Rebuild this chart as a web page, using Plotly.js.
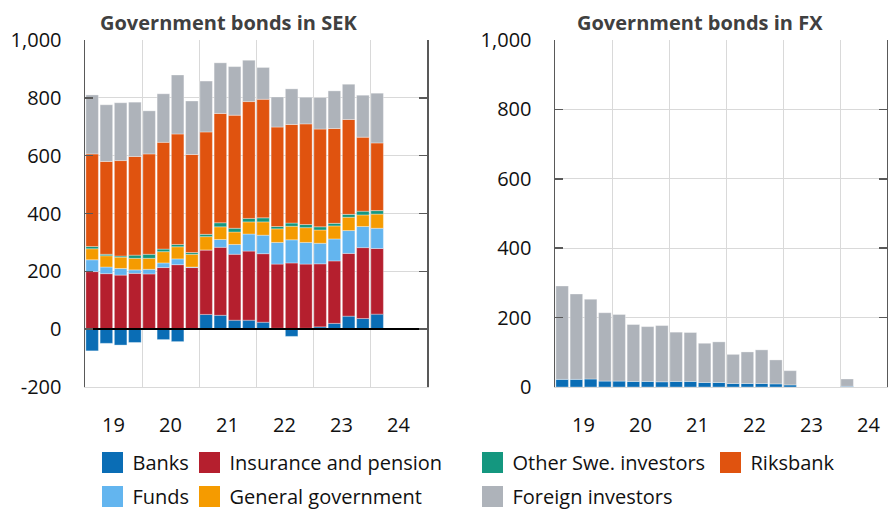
<!DOCTYPE html>
<html><head><meta charset="utf-8">
<script src="https://cdn.plot.ly/plotly-3.0.1.min.js"></script>
<style>html,body{margin:0;padding:0;background:#fff}#chart{width:888px;height:512px}</style>
</head><body><div id="chart"></div>
<script>
// ---- data (SEK billion), quarterly ----
const quarters = ['2019Q1','2019Q2','2019Q3','2019Q4','2020Q1','2020Q2','2020Q3','2020Q4',
                  '2021Q1','2021Q2','2021Q3','2021Q4','2022Q1','2022Q2','2022Q3','2022Q4',
                  '2023Q1','2023Q2','2023Q3','2023Q4','2024Q1'];
const yearLabels = ['19','20','21','22','23','24'];

// Government bonds in SEK
const sekBanks     = [-75,-49,-55,-46,  2,-36,-43, -3, 51, 48, 31, 31, 24,  3,-25,  3,  8, 20, 45, 37, 52];
const sekInsurance = [199,192,187,193,189,213,223,213,223,235,228,239,237,222,229,222,218,216,217,245,227];
const sekFunds     = [ 41, 23, 23, 12, 16, 16, 20,  2,  0, 27, 34, 59, 64, 75, 80, 75, 71, 76, 79, 73, 70];
const sekGenGov    = [ 38, 39, 39, 40, 38, 39, 42, 44, 46, 44, 43, 42, 46, 47, 47, 51, 46, 45, 46, 40, 49];
const sekOther     = [  8,  5,  4, 11, 14,  9,  8,  6,  8, 14, 13, 12, 14,  8, 11, 11, 11,  9, 10, 13, 12];
const sekRiksbank  = [320,321,330,341,347,369,382,339,354,378,391,404,410,344,341,348,338,328,328,256,234];
const sekForeign   = [204,196,200,188,149,168,204,185,176,175,168,143,110,104,123, 92,109,130,122,145,172];

// Government bonds in FX
const fxBanks   = [22,22,23,17,17,16,16,15,16,16,13,13,10,10,10, 9, 6, 0, 0, 0, 2];
const fxForeign = [269,246,230,197,192,164,158,162,142,141,113,117,84,91,97,69,41, 0, 0, 0,21];

const sekTickVals = [-200,0,200,400,600,800,1000];
const sekTickText = ['-200','0','200','400','600','800','1,000'];
const fxTickVals  = [0,200,400,600,800,1000];
const fxTickText  = ['0','200','400','600','800','1,000'];

// ---- styling ----
const colors = {
  banks:'#0a6db5', insurance:'#b51f2e', funds:'#63b5ef', gengov:'#f59b00',
  other:'#14977f', riksbank:'#e0530f', foreign:'#aeb3ba'
};
const FONT = '"Open Sans", "Noto Sans", sans-serif';
const xPos = quarters.map(q => +q.slice(0,4) + (+q.slice(5) - 0.5) / 4);
const yearCenters = yearLabels.map(y => 2000 + +y + 0.5);
const yearBounds = [2020,2021,2022,2023,2024];
const BW = 0.22;
const barLine = {color:'rgba(255,255,255,0.55)', width:0.6};

function bar(y, color, xa, ya, name){
  return {type:'bar', x:xPos, y:y, width:BW, name:name, showlegend:false,
          marker:{color:color, line:barLine}, xaxis:xa, yaxis:ya, hoverinfo:'x+y+name'};
}
const traces = [
  bar(sekBanks, colors.banks, 'x','y','Banks'),
  bar(sekInsurance, colors.insurance, 'x','y','Insurance and pension'),
  bar(sekFunds, colors.funds, 'x','y','Funds'),
  bar(sekGenGov, colors.gengov, 'x','y','General government'),
  bar(sekOther, colors.other, 'x','y','Other Swe. investors'),
  bar(sekRiksbank, colors.riksbank, 'x','y','Riksbank'),
  bar(sekForeign, colors.foreign, 'x','y','Foreign investors'),
  bar(fxBanks, colors.banks, 'x2','y2','Banks'),
  bar(fxForeign, colors.foreign, 'x2','y2','Foreign investors')
];
// legend entries
function leg(name, color, legend){
  return {type:'scatter', mode:'markers', x:[null], y:[null], name:name, legend:legend,
          legendgroup:name, showlegend:true, hoverinfo:'skip',
          marker:{symbol:'square', size:16, color:color, line:{color:color, width:5}}};
}
traces.push(
  leg('Banks', colors.banks, 'legend'),
  leg('Funds', colors.funds, 'legend'),
  leg('Insurance and pension', colors.insurance, 'legend2'),
  leg('General government', colors.gengov, 'legend2'),
  leg('Other Swe. investors', colors.other, 'legend3'),
  leg('Foreign investors', colors.foreign, 'legend3'),
  leg('Riksbank', colors.riksbank, 'legend4')
);

const W = 888, H = 512;
const grid = '#d9d9d9', axisCol = '#595959';
const tickFont = {family:FONT, size:20, color:'#111'};
function xAxis(dom, range, anchor){
  return {domain:dom, range:range, anchor:anchor, tickmode:'array', tickvals:yearCenters, ticktext:yearLabels,
          ticks:'', showgrid:false, zeroline:false, showline:true, linecolor:grid, linewidth:1,
          tickfont:tickFont, ticklabelstandoff:20, fixedrange:true,
          minor:{tickmode:'array', tickvals:yearBounds, showgrid:true, gridcolor:grid, gridwidth:1, ticks:''}};
}
function yAxis(range, tv, tt, anchor, zl){
  return {domain:[125/H, 472/H], range:range, anchor:anchor, tickmode:'array', tickvals:tv, ticktext:tt,
          ticks:'inside', ticklen:8, tickwidth:1.5, tickcolor:axisCol, showline:true, linecolor:axisCol,
          linewidth:1.5, mirror:'ticks', showgrid:false, zeroline:zl, zerolinecolor:'#000', zerolinewidth:2,
          zerolinelayer:'above traces', tickfont:tickFont, ticklabelstandoff:18, fixedrange:true,
          minor:{tickmode:'array', tickvals:[200,400,600,800], showgrid:true, gridcolor:grid, gridwidth:1, ticks:''}};
}
function legendAt(px){
  return {x:px/W, xanchor:'left', y:(H-443)/H, yanchor:'top', orientation:'v', bgcolor:'rgba(0,0,0,0)',
          font:{family:FONT, size:20, color:'#111'}, tracegroupgap:5, traceorder:'grouped', itemclick:false, itemdoubleclick:false};
}
const layout = {
  width:W, height:H, margin:{l:0,r:0,t:0,b:0, autoexpand:false},
  paper_bgcolor:'#fff', plot_bgcolor:'#fff', barmode:'relative',
  font:{family:FONT, color:'#111'},
  xaxis: xAxis([85/W, 427/W], [2019, 2025], 'y'),
  yaxis: yAxis([-200, 1000], sekTickVals, sekTickText, 'x', true),
  xaxis2: xAxis([555/W, 887/W], [2019, 2019 + 332/57], 'y2'),
  yaxis2: yAxis([0, 1000], fxTickVals, fxTickText, 'x2', false),
  legend: legendAt(92.5), legend2: legendAt(189.5), legend3: legendAt(472.5), legend4: legendAt(710.5),
  annotations:[
    {text:'<b>Government bonds in SEK</b>', xref:'paper', yref:'paper', x:228/W, y:(H-22)/H,
     xanchor:'center', yanchor:'middle', showarrow:false, font:{family:FONT, size:20, color:'#404040'}},
    {text:'<b>Government bonds in FX</b>', xref:'paper', yref:'paper', x:700/W, y:(H-22)/H,
     xanchor:'center', yanchor:'middle', showarrow:false, font:{family:FONT, size:20, color:'#404040'}}
  ],
  showlegend:true
};
Plotly.newPlot('chart', traces, layout, {displayModeBar:false, staticPlot:true});
</script></body></html>
